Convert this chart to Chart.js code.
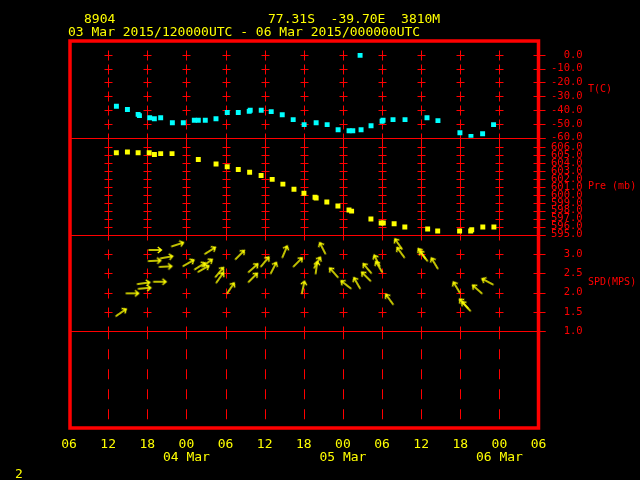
<!DOCTYPE html>
<html>
<head>
<meta charset="utf-8">
<script src="https://cdn.jsdelivr.net/npm/chart.js@4.4.1/dist/chart.umd.min.js"></script>
<style>
  html, body { margin: 0; padding: 0; background: #000; }
  canvas { display: block; }
</style>
</head>
<body>
<canvas id="sfgram" width="640" height="480"></canvas>
<script>
// x values are hours after 03 Mar 2015 06 UTC
const xTickLabels = ['06', '12', '18', '00', '06', '12', '18', '00', '06', '12', '18', '00', '06'];
const dayLabels = { 18: '04 Mar', 42: '05 Mar', 66: '06 Mar' };

const tempHours = [7.27, 8.96, 10.6, 10.8, 12.37, 13.09, 14.06, 15.85, 17.53, 19.22, 19.83, 20.9,
  22.54, 24.27, 25.96, 27.64, 27.79, 29.48, 31.01, 32.7, 34.38, 36.06, 37.9, 39.59, 41.27, 42.95,
  43.52, 44.64, 44.79, 46.32, 48.01, 48.16, 49.69, 51.53, 54.9, 56.58, 59.95, 61.64, 63.43, 65.11];
const tempValues = [-37.2, -39.6, -43.1, -44.0, -45.5, -46.2, -45.5, -49.1, -49.1, -47.4, -47.4, -47.4,
  -46.2, -41.8, -41.8, -40.9, -40.1, -40.1, -41.1, -43.3, -46.9, -50.5, -49.1, -50.5, -54.2, -54.9,
  -54.9, -0.4, -54.2, -51.3, -48.1, -47.4, -46.9, -46.9, -45.5, -47.6, -56.4, -59.1, -57.1, -50.5];

const presHours = [7.26, 8.96, 10.6, 12.3, 13.1, 14.06, 15.8, 19.83, 22.55, 24.26, 25.96, 27.7,
  29.46, 31.16, 32.8, 34.5, 36.03, 37.73, 37.9, 39.54, 41.24, 42.94, 43.34, 46.3, 47.87, 48.2,
  49.86, 51.5, 55.0, 56.54, 59.9, 61.6, 61.76, 63.46, 65.16];
const presValues = [605.3, 605.4, 605.3, 605.3, 605.1, 605.2, 605.2, 604.45, 603.9, 603.55, 603.2, 602.85,
  602.45, 601.95, 601.35, 600.7, 600.2, 599.7, 599.6, 599.1, 598.6, 598.1, 597.95, 596.95, 596.45, 596.45,
  596.35, 595.95, 595.7, 595.45, 595.45, 595.45, 595.6, 595.95, 595.95];

const windHours = [7.96, 9.69, 11.41, 11.56, 13.17, 13.09, 13.89, 14.93, 14.78, 16.62, 18.3, 20.06,
  20.6, 21.16, 21.62, 23.05, 23.12, 24.78, 26.19, 28.18, 28.22, 30.02, 31.35, 33.08, 35.07, 35.91,
  37.95, 38.06, 38.9, 40.63, 42.5, 44.18, 45.59, 45.76, 47.24, 47.55, 49.16, 50.54, 50.89, 54.13,
  54.41, 56.08, 59.45, 60.57, 60.92, 62.63, 64.21];
const windSpeed = [1.48, 1.98, 2.24, 2.11, 3.1, 2.82, 2.28, 2.91, 2.67, 3.24, 2.76, 2.68,
  2.61, 2.76, 3.08, 2.52, 2.38, 2.11, 2.97, 2.38, 2.63, 2.79, 2.63, 3.05, 2.78, 2.13,
  2.64, 2.77, 3.14, 2.51, 2.2, 2.24, 2.41, 2.62, 2.82, 2.66, 1.82, 3.25, 3.03, 3.0,
  2.94, 2.75, 2.13, 1.71, 1.64, 2.08, 2.28];
// direction the wind blows from, degrees
const windDir = [235, 270, 262, 265, 270, 267, 270, 260, 267, 252, 240, 238,
  240, 235, 238, 220, 215, 214, 225, 225, 228, 220, 207, 203, 225, 192,
  188, 210, 153, 138, 128, 150, 135, 140, 153, 149, 144, 145, 144, 145,
  143, 149, 149, 137, 137, 132, 118];

const RED = '#ff0000';
const YELLOW = '#ffff00';
const CYAN = '#00ffff';
const MONO = '"DejaVu Sans Mono", monospace';

function makeArrow() {
  const c = document.createElement('canvas');
  c.width = 18;
  c.height = 10;
  const g = c.getContext('2d');
  g.strokeStyle = YELLOW;
  g.lineWidth = 1.4;
  g.beginPath();
  g.moveTo(2.5, 5); g.lineTo(15.5, 5);
  g.moveTo(11.8, 2); g.lineTo(15.5, 5); g.lineTo(11.8, 8);
  g.stroke();
  return c;
}
const arrow = makeArrow();

function panelAxis(min, max, step, keep) {
  return {
    type: 'linear',
    position: 'right',
    stack: 'panels',
    stackWeight: 1,
    min: min,
    max: max,
    grid: { display: false, drawTicks: false },
    border: { display: false },
    afterBuildTicks: s => { s.ticks = s.ticks.filter(t => keep(t.value)); },
    afterFit: s => { s.width = 101.5; },
    ticks: {
      display: step > 0,
      stepSize: step || 1,
      autoSkip: false,
      color: RED,
      font: { family: MONO, size: 10.5 },
      crossAlign: 'near',
      padding: 12.5,
      // right-justified in a 5 character column
      callback: v => v.toFixed(1).padStart(5, ' ')
    }
  };
}

const panels = [
  { id: 'yT', title: 'T(C)' },
  { id: 'yP', title: 'Pre (mb)' },
  { id: 'yS', title: 'SPD(MPS)' }
];

const sfgramDecor = {
  id: 'sfgramDecor',
  beforeDatasetsDraw(chart) {
    const { ctx, chartArea: a, scales } = chart;
    const xs = scales.x;
    const cols = xs.ticks.slice(1, -1).map(t => Math.round(xs.getPixelForValue(t.value)) + 0.5);
    ctx.save();
    ctx.strokeStyle = RED;
    ctx.lineWidth = 1;
    panels.forEach(p => {
      const s = scales[p.id];
      s.ticks.forEach(t => {
        const y = Math.round(s.getPixelForValue(t.value)) + 0.5;
        ctx.beginPath();
        cols.forEach(x => {
          ctx.moveTo(x - 4, y); ctx.lineTo(x + 4, y);
          ctx.moveTo(x, y - 5); ctx.lineTo(x, y + 5);
        });
        ctx.moveTo(a.right - 5, y); ctx.lineTo(a.right + 7, y);
        ctx.stroke();
      });
      const yb = Math.round(s.bottom) + 0.5;
      ctx.beginPath();
      ctx.moveTo(a.left, yb); ctx.lineTo(a.right + 7, yb);
      ctx.stroke();
    });
    const e = scales.yE;
    ctx.setLineDash([10, 10]);
    ctx.beginPath();
    cols.forEach(x => { ctx.moveTo(x, e.top - 2); ctx.lineTo(x, e.bottom); });
    ctx.stroke();
    ctx.restore();
  },
  afterDraw(chart) {
    const { ctx, chartArea: a, scales } = chart;
    ctx.save();
    ctx.strokeStyle = RED;
    ctx.lineWidth = 3.5;
    ctx.strokeRect(a.left + 1, a.top, a.right - a.left - 1, a.bottom - a.top);

    ctx.fillStyle = YELLOW;
    ctx.font = '13px ' + MONO;
    ctx.textBaseline = 'alphabetic';
    ctx.fillText('8904', 84, 22.5);
    ctx.fillText('77.31S  -39.70E  3810M', 268, 22.5);
    ctx.fillText('03 Mar 2015/120000UTC - 06 Mar 2015/000000UTC', 68, 36);
    ctx.fillText('2', 15, 478);

    ctx.fillStyle = RED;
    ctx.font = '10px ' + MONO;
    ctx.textBaseline = 'middle';
    panels.forEach(p => {
      const s = scales[p.id];
      ctx.fillText(p.title, 588, (s.top + s.bottom) / 2);
    });
    ctx.restore();
  }
};

new Chart(document.getElementById('sfgram').getContext('2d'), {
  type: 'scatter',
  data: {
    datasets: [
      {
        label: 'T(C)',
        data: tempHours.map((h, i) => ({ x: h, y: tempValues[i] })),
        yAxisID: 'yT',
        pointStyle: 'rect',
        pointRadius: 3.5,
        backgroundColor: CYAN,
        borderWidth: 0
      },
      {
        label: 'Pre (mb)',
        data: presHours.map((h, i) => ({ x: h, y: presValues[i] })),
        yAxisID: 'yP',
        pointStyle: 'rect',
        pointRadius: 3.5,
        backgroundColor: YELLOW,
        borderWidth: 0
      },
      {
        label: 'SPD(MPS)',
        data: windHours.map((h, i) => ({ x: h, y: windSpeed[i] })),
        yAxisID: 'yS',
        pointStyle: arrow,
        pointRadius: 7,
        rotation: c => windDir[c.dataIndex] + 90
      }
    ]
  },
  options: {
    responsive: false,
    devicePixelRatio: 1,
    animation: false,
    layout: { padding: { left: 69, top: 41, right: 0, bottom: 0 } },
    plugins: { legend: { display: false }, tooltip: { enabled: false } },
    scales: {
      x: {
        type: 'linear',
        position: 'bottom',
        min: 0,
        max: 72,
        grid: { display: false, drawTicks: false },
        border: { display: false },
        afterFit: s => { s.height = 52; },
        ticks: {
          stepSize: 6,
          autoSkip: false,
          maxRotation: 0,
          color: YELLOW,
          padding: 9.5,
          font: { family: MONO, size: 13, lineHeight: 1.04 },
          callback: (v, i) => dayLabels[v] ? [xTickLabels[i], dayLabels[v]] : xTickLabels[i]
        }
      },
      yT: panelAxis(-60, 10, 10, v => v <= 0),
      yP: panelAxis(595, 607.2, 1, v => v <= 606 && Number.isInteger(v)),
      yS: panelAxis(1, 3.5, 0.5, v => v <= 3),
      yE: panelAxis(0, 1, 0, v => false)
    }
  },
  plugins: [sfgramDecor]
});
</script>
</body>
</html>
